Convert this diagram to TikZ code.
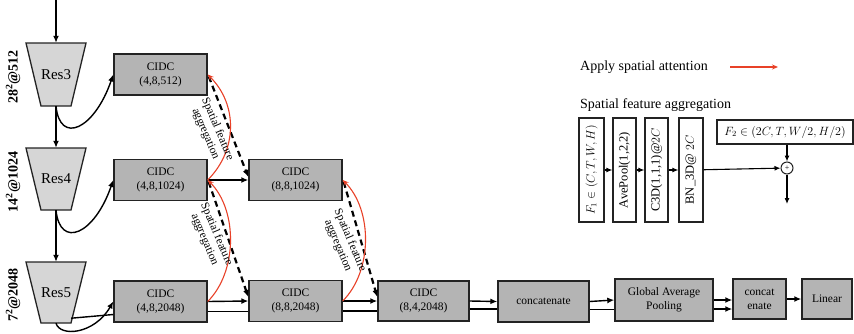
\documentclass[tikz,border=0pt]{standalone}
\usepackage{fontspec}
\setmainfont{Liberation Serif}
\usetikzlibrary{arrows.meta,calc}
\definecolor{boxgray}{RGB}{180,180,180}
\definecolor{resgray}{RGB}{214,214,214}
\definecolor{attred}{RGB}{232,65,40}
\definecolor{edgec}{RGB}{35,35,35}
\newcommand{\resblock}[5]{%
  \coordinate (#1c) at (#2,#3);
  \filldraw[fill=resgray, draw=edgec, line width=1.3pt]
    ($(#1c)+(-30,-#4/2)$) -- ($(#1c)+(30,-#4/2)$) -- ($(#1c)+(15,#4/2)$) -- ($(#1c)+(-15,#4/2)$) -- cycle;
  \node[resbody, minimum height=#4pt] (#1) at (#1c) {#5};
}
\begin{document}
\begin{tikzpicture}[x=1pt,y=-1pt,
  box/.style={draw=edgec, line width=1.4pt, fill=boxgray, align=center, inner sep=0pt, font=\fontsize{11.5}{14}\selectfont},
  cidc/.style={box, minimum width=93pt, minimum height=41pt},
  resbody/.style={minimum width=60pt, inner sep=0pt, font=\fontsize{15}{18}\selectfont},
  flow/.style={line width=1.4pt, -{Latex[length=7pt,width=6pt]}},
  bare/.style={line width=1.4pt},
  attn/.style={draw=attred, line width=1.1pt, -{Stealth[length=6pt,width=5pt]}},
  agg/.style={line width=2.2pt, dash pattern=on 6pt off 4pt, -{Latex[length=7pt,width=6pt]}},
  sfa/.style={rotate=-67, align=center, inner sep=0pt, font=\fontsize{11.5}{13}\selectfont},
  dimlabel/.style={rotate=90, inner sep=0pt, font=\fontsize{14}{16}\selectfont\bfseries},
  legbox/.style={draw=edgec, line width=1.2pt, fill=white, rotate=90, inner sep=0pt, minimum width=104pt, font=\fontsize{12.5}{15}\selectfont},
  legflow/.style={line width=1.1pt, -{Latex[length=6pt,width=5pt]}},
  legtext/.style={anchor=west, inner sep=0pt, font=\fontsize{14}{16}\selectfont}
]
\useasboundingbox (0,0) rectangle (854,333);

% backbone
\resblock{res3}{56}{74.5}{63}{Res3}
\resblock{res4}{56}{179}{62}{Res4}
\resblock{res5}{56}{292.5}{61}{Res5}

\node[dimlabel] (l3) at (13,77) {28\textsuperscript{2}@512};
\node[dimlabel] (l4) at (13,182) {14\textsuperscript{2}@1024};
\node[dimlabel] (l5) at (13,295) {7\textsuperscript{2}@2048};

% CIDC boxes
\node[cidc] (c1) at (160.5,74.5) {CIDC\\(4,8,512)};
\node[cidc] (c2) at (160.5,180) {CIDC\\(4,8,1024)};
\node[cidc] (c3) at (160.5,301.5) {CIDC\\(4,8,2048)};
\node[cidc] (d1) at (295.5,180) {CIDC\\(8,8,1024)};
\node[cidc] (d2) at (295.5,301) {CIDC\\(8,8,2048)};
\node[box, minimum width=91pt, minimum height=40pt] (e) at (423.5,301) {CIDC\\(8,4,2048)};
\node[box, minimum width=91pt, minimum height=41pt] (concat) at (543.5,301.5) {concatenate};
\node[box, minimum width=98pt, minimum height=42pt] (gap) at (664,300) {Global Average\\Pooling};
\node[box, minimum width=53pt, minimum height=40pt] (cc) at (759.5,299) {concat\\enate};
\node[box, minimum width=50pt, minimum height=40pt] (linear) at (827,299) {Linear};

% backbone arrows
\coordinate (in) at (56,0);
\draw[flow] (in) -- (res3.north);
\draw[flow] (res3.south) -- (res4.north);
\draw[flow] (res4.south) -- (res5.north);

\draw[flow] (res3.south) .. controls +(4,39) and +(-19,55) .. (c1.west);
\draw[flow] (res4.south) .. controls +(4,39) and +(-19,55) .. (c2.west);
\draw[flow] (res5.south) .. controls +(4,14) and +(-19,33) .. (c3.west);
\draw[bare] ($(res5.south east)+(-15,-5)$) -- ($(c3.west)+(0,13)$);

% main flow
\draw[flow] (c2.east) -- (d1.west);
\draw[flow] (c3.east) -- (d2.west);
\draw[bare] ($(c3.east)+(0,10)$) -- ($(c3.east -| d2.west)+(0,10)$);
\draw[flow] (d2.east) -- (e.west);
\draw[bare] ($(d2.east)+(0,10)$) -- ($(d2.east -| e.west)+(0,10)$);
\draw[flow] (e.east) -- (concat.west);
\draw[bare] ($(e.east)+(0,8)$) -- ($(e.east -| concat.west)+(0,8)$);
\draw[flow] (concat.east) -- (gap.west);
\draw[bare] ($(concat.east)+(0,8)$) -- ($(concat.east -| gap.west)+(0,8)$);
\draw[flow] (gap.east) -- (gap.east -| cc.west);
\draw[flow] ($(gap.east)+(0,9)$) -- ($(gap.east -| cc.west)+(0,9)$);
\draw[flow] (cc.east) -- (linear.west);

% spatial feature aggregation (dashed)
\draw[agg] ($(c1.east)+(1,2)$) -- ($(d1.west)+(0,-3)$);
\draw[agg] ($(c2.east)+(1,2)$) -- ($(d2.west)+(0,-4)$);
\draw[agg] ($(d1.east)+(1,2)$) -- ($(e.west)+(0,-4)$);

% spatial attention (red)
\draw[attn] (c2.east) .. controls +(30,-30) and +(30,30) .. (c1.east);
\draw[attn] (c3.east) .. controls +(30,-30) and +(30,30) .. (c2.east);
\draw[attn] (d2.east) .. controls +(30,-30) and +(30,30) .. (d1.east);

\node[sfa] (s1) at (211.5,131.5) {Spatial feature\\aggregation};
\node[sfa] (s2) at (210.5,237) {Spatial feature\\aggregation};
\node[sfa] (s3) at (344,243) {Spatial feature\\aggregation};

% legend
\node[legtext] (lg1) at (580,67) {Apply spatial attention};
\coordinate (la1) at (730,67);
\coordinate (la2) at (778,67);
\draw[attn] (la1) -- (la2);
\node[legtext] (lg2) at (580,105) {Spatial feature aggregation};

\node[legbox, minimum height=25pt, font=\fontsize{12}{14}\selectfont] (f1) at (591.5,170) {$F_1 \in (C,T,W,H)$};
\node[legbox, minimum height=23pt] (ap) at (624.5,170) {AvePool(1,2,2)};
\node[legbox, minimum height=23pt] (c3d) at (656.5,170) {C3D(1,1,1)@$2C$};
\node[legbox, minimum height=24pt] (bn) at (691,170) {BN\_3D@ $2C$};
\node[draw=edgec, line width=1.2pt, fill=white, minimum width=136pt, minimum height=24pt, inner sep=0pt, font=\fontsize{12}{14}\selectfont] (f2) at (785,132) {$F_2 \in (2C,T,W/2,H/2)$};
\node[circle, draw=edgec, line width=1pt, fill=white, minimum size=12pt, inner sep=0pt, font=\fontsize{8}{8}\selectfont] (plus) at (787,168) {+};
\coordinate (out) at (787,204);

\draw[legflow] (f1) -- (ap);
\draw[legflow] (ap) -- (c3d);
\draw[legflow] (c3d) -- (bn);
\draw[legflow] (bn) -- (plus);
\draw[legflow] (plus |- f2.south) -- (plus.north);
\draw[legflow] (plus.south) -- (out);
\end{tikzpicture}
\end{document}
